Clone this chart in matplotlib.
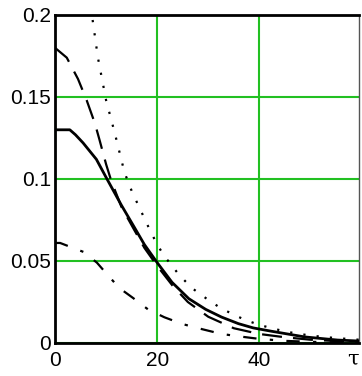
import matplotlib
matplotlib.use("Agg")
import matplotlib.pyplot as plt

# values
tau_solid = [0, 2.9, 4, 5.5, 8.1, 10, 13, 15.5, 17.5, 20, 22.9, 26.2, 29.5,
             32.6, 35.9, 38.8, 42.3, 48.9, 55.3, 59.5]
y_solid = [0.13, 0.13, 0.127, 0.122, 0.112, 0.101, 0.084, 0.0707, 0.06,
           0.049, 0.037, 0.027, 0.0205, 0.0158, 0.0118, 0.0092, 0.0072,
           0.0037, 0.0018, 0.0012]

tau_dash = [0, 2.3, 4.5, 6.2, 7.8, 8.7, 10, 11, 13, 15.5, 17.5, 20, 23, 26,
            30, 35, 40, 45, 50, 55, 59.5]
y_dash = [0.18, 0.174, 0.161, 0.148, 0.134, 0.124, 0.109, 0.099, 0.083,
          0.069, 0.058, 0.047, 0.035, 0.025, 0.016, 0.009, 0.0055, 0.0035,
          0.002, 0.0012, 0.0008]

tau_dot = [7.0, 8.4, 10, 11.7, 13.6, 15.1, 16.9, 18.4, 20, 21.4, 24.3, 26.8,
           29.5, 32.4, 35.5, 37.3, 40, 45, 50, 55, 59.5]
y_dot = [0.205, 0.174, 0.148, 0.128, 0.104, 0.092, 0.080, 0.070, 0.060,
         0.053, 0.0415, 0.0335, 0.0274, 0.0213, 0.0165, 0.014, 0.011, 0.007,
         0.0045, 0.003, 0.002]

tau_dd = [0, 1, 5.6, 8.2, 10.3, 12.6, 15.3, 18.2, 21.4, 24.9, 28.7, 32.6,
          36.9, 40, 45, 50, 55, 59.5]
y_dd = [0.061, 0.061, 0.0555, 0.049, 0.0415, 0.0335, 0.0274, 0.0205, 0.0157,
        0.0116, 0.0085, 0.0055, 0.0037, 0.0025, 0.0013, 0.0007, 0.0004,
        0.0002]

x_ticks = [0, 20, 40]
y_ticks = [0, 0.05, 0.1, 0.15, 0.2]
y_labels = ["0", "0.05", "0.1", "0.15", "0.2"]

plt.rcParams["font.family"] = ["Liberation Sans", "DejaVu Sans"]

fig = plt.figure(figsize=(3.62, 3.76), dpi=100)
ax = fig.add_axes([55 / 362, 33 / 376, 304 / 362, 328 / 376])

ax.plot(tau_solid, y_solid, color="black", lw=2.0, zorder=3)
ax.plot(tau_dash, y_dash, color="black", lw=1.6, dashes=(9, 5), zorder=3)
ax.plot(tau_dot, y_dot, color="black", lw=1.6, dashes=(1, 5), zorder=3)
ax.plot(tau_dd, y_dd, color="black", lw=1.6, dashes=(6, 6, 1.5, 6), zorder=3)

ax.set_xlim(0, 59.5)
ax.set_ylim(0, 0.2)
ax.set_xticks(x_ticks)
ax.set_xticklabels([str(t) for t in x_ticks])
ax.set_yticks(y_ticks)
ax.set_yticklabels(y_labels)
ax.tick_params(axis="y", length=0, labelsize=15, pad=3)
ax.tick_params(axis="x", length=0, labelsize=15, pad=6)
ax.grid(True, color="#22c022", lw=1.5)
for spine in ax.spines.values():
    spine.set_linewidth(2)
    spine.set_color("black")
ax.spines["right"].set_linewidth(1)
ax.spines["right"].set_color("#555555")

ax.text(0.98, -0.02, "τ", transform=ax.transAxes, fontsize=15,
        ha="center", va="top", family="DejaVu Serif")

fig.savefig("out.png", dpi=100)
